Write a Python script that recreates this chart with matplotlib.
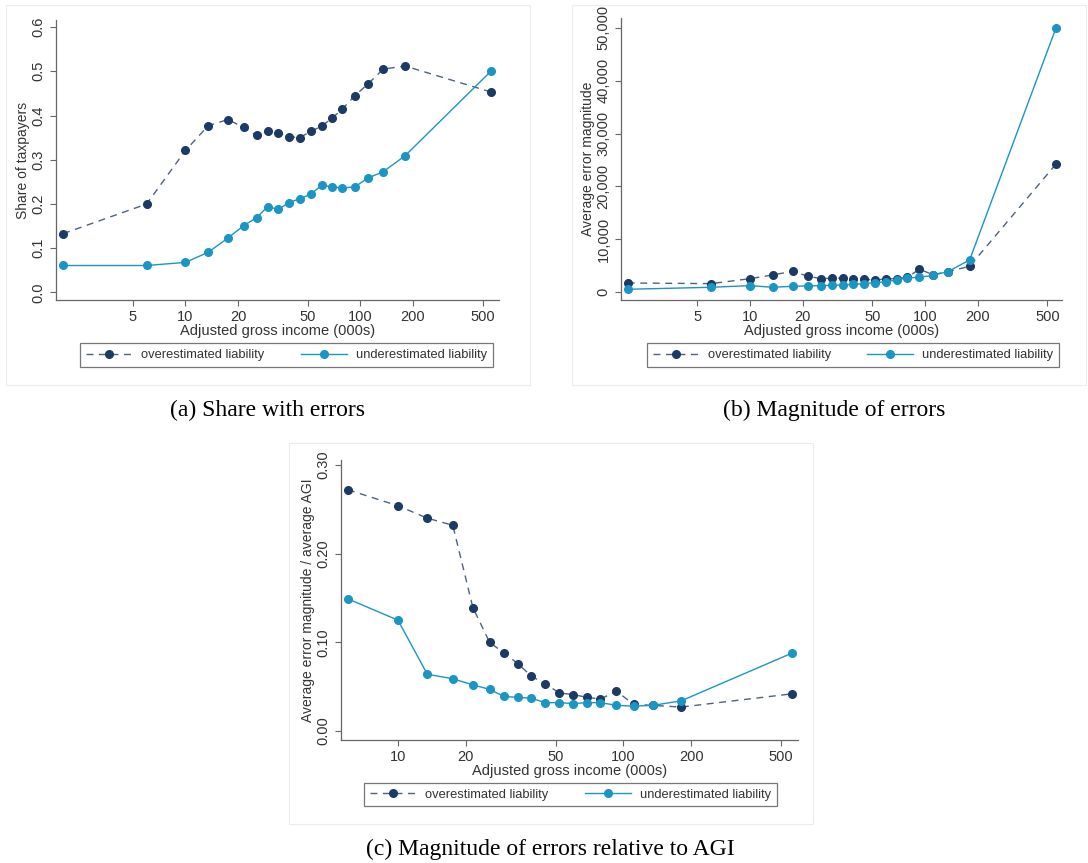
import matplotlib
matplotlib.use("Agg")
import matplotlib.pyplot as plt
from matplotlib.patches import Rectangle
from matplotlib.ticker import FuncFormatter, NullLocator
import numpy as np

# AGI bins (000s)
agi = [2, 6, 10, 13.5, 17.5, 21.5, 25.5, 29.5, 34, 39, 45, 52, 60, 69, 79, 93, 111, 135, 180, 560]

# (a) share of taxpayers with errors
share_over = [0.133, 0.200, 0.321, 0.377, 0.391, 0.373, 0.355, 0.364, 0.361, 0.352,
              0.350, 0.364, 0.376, 0.394, 0.415, 0.445, 0.472, 0.505, 0.512, 0.453]
share_under = [0.061, 0.061, 0.068, 0.091, 0.123, 0.151, 0.169, 0.194, 0.188, 0.203,
               0.212, 0.222, 0.242, 0.239, 0.236, 0.239, 0.259, 0.273, 0.309, 0.501]

# (b) average error magnitude
mag_over = [1760, 1640, 2580, 3280, 3970, 3020, 2580, 2650, 2650, 2520,
            2460, 2330, 2520, 2580, 2830, 4350, 3340, 3900, 4910, 24200]
mag_under = [570, 950, 1260, 950, 1130, 1200, 1260, 1320, 1390, 1510,
             1640, 1830, 2020, 2330, 2710, 2830, 3210, 3900, 6110, 49900]

# (c) magnitude relative to AGI (first bin not shown)
agi_c = agi[1:]
rel_over = [0.272, 0.254, 0.240, 0.232, 0.139, 0.100, 0.088, 0.076, 0.062, 0.053,
            0.043, 0.041, 0.038, 0.036, 0.045, 0.030, 0.029, 0.027, 0.042]
rel_under = [0.149, 0.125, 0.064, 0.059, 0.052, 0.047, 0.039, 0.038, 0.037, 0.032,
             0.032, 0.031, 0.032, 0.032, 0.029, 0.028, 0.029, 0.034, 0.088]

W, H = 1088, 863
navy = "#1c3a63"
navy_line = "#4e6280"
blue = "#1b95c4"

fig = plt.figure(figsize=(W / 100, H / 100), dpi=100)
plt.rcParams['font.family'] = ['Liberation Sans', 'DejaVu Sans']


def box(x0, y0, x1, y1):
    # pixel box (top-left origin) -> figure fraction
    return [x0 / W, 1 - y1 / H, (x1 - x0) / W, (y1 - y0) / H]


def panel(frame, axbox, legbox, x, over, under, xlim, ylim, xticks, yticks, yfmt, ylabel):
    fig.add_artist(Rectangle((frame[0] / W, 1 - frame[3] / H),
                             (frame[2] - frame[0]) / W, (frame[3] - frame[1]) / H,
                             transform=fig.transFigure, fill=False,
                             edgecolor="#ececec", linewidth=0.8))
    ax = fig.add_axes(box(*axbox))
    l1, = ax.plot(x, over, color=navy_line, linestyle=(0, (5, 4)), linewidth=1.0,
                  marker="o", markersize=5.5, markerfacecolor=navy, markeredgecolor=navy)
    l2, = ax.plot(x, under, color=blue, linestyle="-", linewidth=1.0,
                  marker="o", markersize=5.5, markerfacecolor=blue, markeredgecolor=blue)
    ax.set_xscale("log")
    ax.set_xlim(*xlim)
    ax.set_ylim(*ylim)
    ax.set_xticks(xticks)
    ax.xaxis.set_minor_locator(NullLocator())
    ax.xaxis.set_major_formatter(FuncFormatter(lambda v, p: "%d" % v))
    ax.set_yticks(yticks)
    ax.yaxis.set_major_formatter(FuncFormatter(yfmt))
    for s in ["top", "right"]:
        ax.spines[s].set_visible(False)
    for s in ["left", "bottom"]:
        ax.spines[s].set_color("#666666")
        ax.spines[s].set_linewidth(0.9)
    ax.tick_params(colors="#666666", labelcolor="#333333", labelsize=10.5, length=4, width=0.8)
    ax.tick_params(axis="y", labelrotation=90)
    for t in ax.get_yticklabels():
        t.set_va("center")
    ax.set_xlabel("Adjusted gross income (000s)", fontsize=10.5, color="#333333", labelpad=0)
    ax.set_ylabel(ylabel, fontsize=10, color="#333333", labelpad=1)
    leg = fig.legend([l1, l2], ["overestimated liability", "underestimated liability"],
                     loc="center", bbox_to_anchor=box(*legbox), mode="expand", ncol=2,
                     frameon=True, fancybox=False, fontsize=9.3, handlelength=3.6,
                     handletextpad=0.7, columnspacing=2.2, borderaxespad=0,
                     borderpad=0.45, numpoints=1)
    leg.get_frame().set_edgecolor("#555555")
    leg.get_frame().set_linewidth(0.9)
    for t in leg.get_texts():
        t.set_color("#333333")
    return ax


dec1 = lambda v, p: "%.1f" % v
comma = lambda v, p: "{:,.0f}".format(v)
dec2 = lambda v, p: "%.2f" % v

panel((6, 5, 530, 385), (56, 20, 499, 300), (80, 343, 493, 367),
      agi, share_over, share_under, (1.82, 620), (-0.017, 0.616),
      [5, 10, 20, 50, 100, 200, 500], np.arange(0, 0.61, 0.1), dec1, "Share of taxpayers")

panel((572, 5, 1086, 385), (621, 18, 1062, 300), (647, 343, 1059, 367),
      agi, mag_over, mag_under, (1.83, 607), (-1455, 51830),
      [5, 10, 20, 50, 100, 200, 500], np.arange(0, 50001, 10000), comma,
      "Average error magnitude")

panel((289, 443, 813, 824), (341, 460, 798, 740), (364, 782, 777, 807),
      agi_c, rel_over, rel_under, (5.59, 594), (-0.0101, 0.3056),
      [10, 20, 50, 100, 200, 500], [0, 0.1, 0.2, 0.3], dec2,
      "Average error magnitude / average AGI")

serif = ['Liberation Serif', 'DejaVu Serif']
fig.text(268 / W, 1 - 410 / H, "(a) Share with errors", ha="center", va="center",
         fontsize=17, family=serif)
fig.text(834 / W, 1 - 410 / H, "(b) Magnitude of errors", ha="center", va="center",
         fontsize=17, family=serif)
fig.text(550 / W, 1 - 849 / H, "(c) Magnitude of errors relative to AGI", ha="center",
         va="center", fontsize=17, family=serif)

fig.savefig("out.png", dpi=100)
